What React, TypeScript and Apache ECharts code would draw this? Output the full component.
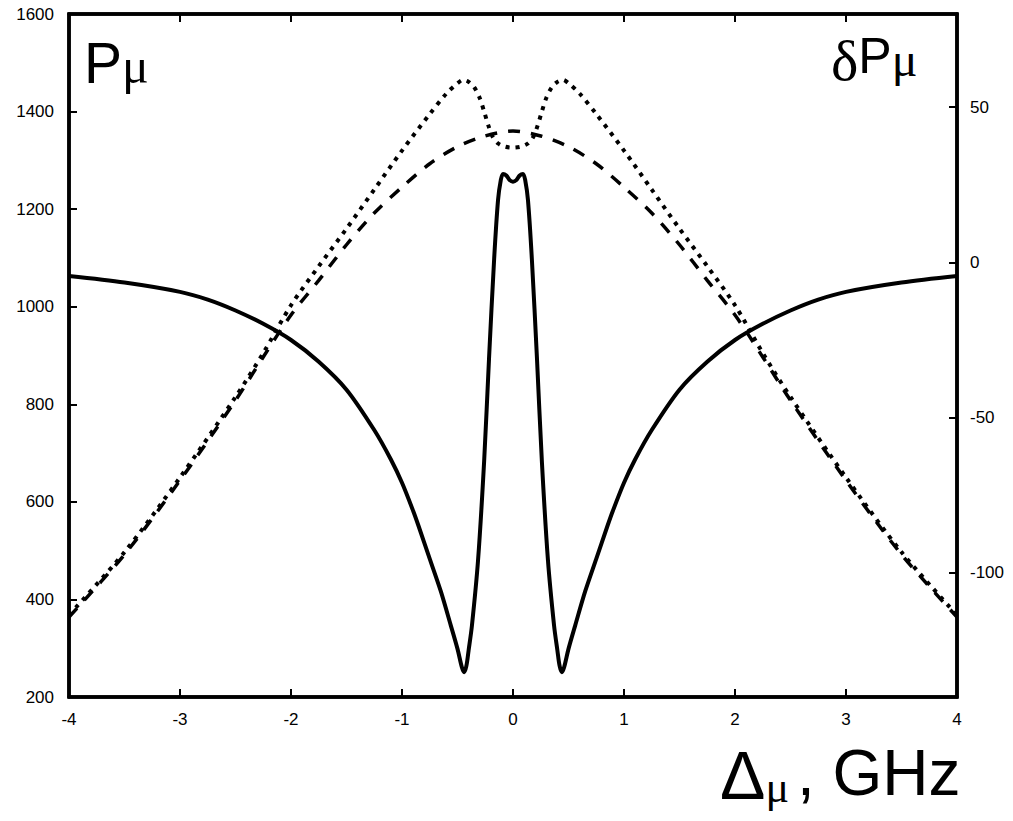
import React, { useEffect, useRef } from "react";
import * as echarts from "echarts";

// Solid curve: δP_μ (right axis)
const xSolid = [-4, -3.5, -3, -2.75, -2.5, -2.25, -2, -1.75, -1.5, -1.25, -1.1, -1, -0.9, -0.85, -0.75, -0.65, -0.56, -0.5, -0.46, -0.44, -0.42, -0.4, -0.37, -0.315, -0.26, -0.216, -0.17, -0.135, -0.11, -0.09, -0.06, -0.03, 0,
  0.03, 0.06, 0.09, 0.11, 0.135, 0.17, 0.216, 0.26, 0.315, 0.37, 0.4, 0.42, 0.44, 0.46, 0.5, 0.56, 0.65, 0.75, 0.85, 0.9, 1, 1.1, 1.25, 1.5, 1.75, 2, 2.25, 2.5, 2.75, 3, 3.5, 4];
const ySolid = [-4.4, -6.5, -9.5, -12, -15.5, -19.8, -25, -32, -41, -54, -63.5, -71, -80, -85, -95.5, -106, -117, -124.5, -130.5, -132, -130, -125, -117, -96, -64, -31, 1, 20, 26.5, 28.5, 28, 26.5, 26,
  26.5, 28, 28.5, 26.5, 20, 1, -31, -64, -96, -117, -125, -130, -132, -130.5, -124.5, -117, -106, -95.5, -85, -80, -71, -63.5, -54, -41, -32, -25, -19.8, -15.5, -12, -9.5, -6.5, -4.4];

// Dotted curve: P_μ (left axis)
const xDotted = [-4, -3.5, -3, -2.5, -2.25, -2, -1.75, -1.5, -1.25, -1, -0.75, -0.6, -0.5, -0.45, -0.4, -0.35, -0.3, -0.26, -0.22, -0.18, -0.13, -0.07, 0,
  0.07, 0.13, 0.18, 0.22, 0.26, 0.3, 0.35, 0.4, 0.45, 0.5, 0.6, 0.75, 1, 1.25, 1.5, 1.75, 2, 2.25, 2.5, 3, 3.5, 4];
const yDotted = [368, 497, 650, 815, 905, 1003, 1083, 1160, 1240, 1320, 1395, 1437, 1458, 1465, 1461, 1450, 1428, 1400, 1370, 1347, 1334, 1328, 1326,
  1328, 1334, 1347, 1370, 1400, 1428, 1450, 1461, 1465, 1458, 1437, 1395, 1320, 1240, 1160, 1083, 1003, 905, 815, 650, 497, 368];

// Dashed curve: P_μ (left axis)
const xDashed = [-4, -3.5, -3, -2.5, -2.25, -2, -1.75, -1.5, -1.25, -1, -0.75, -0.5, -0.25, 0, 0.25, 0.5, 0.75, 1, 1.25, 1.5, 1.75, 2, 2.25, 2.5, 3, 3.5, 4];
const yDashed = [364, 492, 644, 808, 897, 983, 1054, 1127, 1192, 1245, 1293, 1328, 1350, 1360, 1350, 1328, 1293, 1245, 1192, 1127, 1054, 983, 897, 808, 644, 492, 364];

const rightTicks = [-100, -50, 0, 50];

const zip = (xs: number[], ys: number[]) => xs.map((x, i) => [x, ys[i]]);

const FONT = '"Liberation Sans", Arial, Helvetica, sans-serif';
const SERIF = '"Liberation Serif", "Times New Roman", serif';

const GRID = { left: 69, right: 56, top: 14, bottom: 124 };
const W = 1013;
const H = 821;

export default function App() {
  const ref = useRef<HTMLDivElement>(null);
  useEffect(() => {
    if (!ref.current) return;
    const chart = echarts.init(ref.current, null, { renderer: "svg" });
    chart.setOption({
      animation: false,
      grid: GRID,
      xAxis: [
        {
          type: "value", min: -4, max: 4, interval: 1, position: "bottom",
          axisLine: { show: true, onZero: false, lineStyle: { color: "#000", width: 3.5 } },
          axisTick: { show: true, inside: true, length: 8, lineStyle: { color: "#000", width: 2 } },
          splitLine: { show: false },
          axisLabel: { color: "#000", fontSize: 17, fontFamily: FONT, margin: 14, formatter: (v: number) => String(v) },
        },
        {
          type: "value", min: -4, max: 4, interval: 1, position: "top",
          axisLine: { show: true, onZero: false, lineStyle: { color: "#000", width: 3.5 } },
          axisTick: { show: true, inside: true, length: 8, lineStyle: { color: "#000", width: 2 } },
          splitLine: { show: false },
          axisLabel: { show: false },
        },
      ],
      yAxis: [
        {
          type: "value", min: 200, max: 1600, interval: 200, position: "left",
          axisLine: { show: true, onZero: false, lineStyle: { color: "#000", width: 3.5 } },
          axisTick: { show: true, inside: true, length: 8, lineStyle: { color: "#000", width: 2 } },
          splitLine: { show: false },
          axisLabel: { color: "#000", fontSize: 17, fontFamily: FONT, margin: 15, formatter: (v: number) => String(v) },
        },
        {
          type: "value", min: -140, max: 80, position: "right",
          axisLine: { show: true, onZero: false, lineStyle: { color: "#000", width: 3.5 } },
          axisTick: { show: true, inside: true, length: 8, customValues: rightTicks, lineStyle: { color: "#000", width: 2 } },
          splitLine: { show: false },
          axisLabel: { color: "#000", fontSize: 17, fontFamily: FONT, margin: 13, customValues: rightTicks, formatter: (v: number) => String(v) },
        },
      ],
      series: [
        {
          name: "δP", type: "line", yAxisIndex: 1, data: zip(xSolid, ySolid),
          showSymbol: false, smooth: 0.3,
          lineStyle: { color: "#000", width: 4 },
        },
        {
          name: "P dotted", type: "line", yAxisIndex: 0, data: zip(xDotted, yDotted),
          showSymbol: false, smooth: 0.3,
          lineStyle: { color: "#000", width: 4, type: [4, 6], cap: "butt" },
        },
        {
          name: "P dashed", type: "line", yAxisIndex: 0, data: zip(xDashed, yDashed),
          showSymbol: false, smooth: 0.3,
          lineStyle: { color: "#000", width: 3.5, type: [12, 11], cap: "butt" },
        },
      ],
      graphic: [
        {
          type: "rect", z: 100, silent: true,
          shape: { x: GRID.left, y: GRID.top, width: W - GRID.left - GRID.right, height: H - GRID.top - GRID.bottom },
          style: { fill: "none", stroke: "#000", lineWidth: 3.5 },
        },
        {
          type: "text", x: 84, y: 34,
          style: {
            text: "{p|P}{s|μ}", textAlign: "left", textVerticalAlign: "top", align: "left", verticalAlign: "top",
            fill: "#000",
            rich: {
              p: { fontFamily: FONT, fontSize: 57, lineHeight: 57, verticalAlign: "top", fill: "#000", color: "#000" },
              s: { fontFamily: SERIF, fontSize: 50, lineHeight: 57, padding: [16, 0, 0, 0], verticalAlign: "bottom", fill: "#000", color: "#000" },
            },
          },
        },
        {
          type: "text", x: 831, y: 31,
          style: {
            text: "{d|δ}{p|P}{s|μ}", textAlign: "left", textVerticalAlign: "top", align: "left", verticalAlign: "top",
            fill: "#000",
            rich: {
              d: { fontFamily: SERIF, fontSize: 58, lineHeight: 52, verticalAlign: "top", fill: "#000", color: "#000" },
              p: { fontFamily: FONT, fontSize: 50, lineHeight: 52, verticalAlign: "top", fill: "#000", color: "#000" },
              s: { fontFamily: SERIF, fontSize: 48, lineHeight: 52, padding: [22, 0, 0, 0], verticalAlign: "bottom", fill: "#000", color: "#000" },
            },
          },
        },
        {
          type: "text", x: 720, y: 741,
          style: {
            text: "{d|Δ}{s|μ}{g|, GHz}", textAlign: "left", textVerticalAlign: "top", align: "left", verticalAlign: "top",
            fill: "#000",
            rich: {
              d: { fontFamily: FONT, fontSize: 68, lineHeight: 68, verticalAlign: "top", fill: "#000", color: "#000" },
              s: { fontFamily: SERIF, fontSize: 44, lineHeight: 68, padding: [20, 0, 0, 0], verticalAlign: "bottom", fill: "#000", color: "#000" },
              g: { fontFamily: FONT, fontSize: 64, lineHeight: 68, padding: [0, 0, 0, 8], verticalAlign: "top", fill: "#000", color: "#000" },
            },
          },
        },
      ],
    });
    return () => chart.dispose();
  }, []);
  return <div ref={ref} style={{ position: "absolute", left: 0, top: 0, width: W, height: H }} />;
}
